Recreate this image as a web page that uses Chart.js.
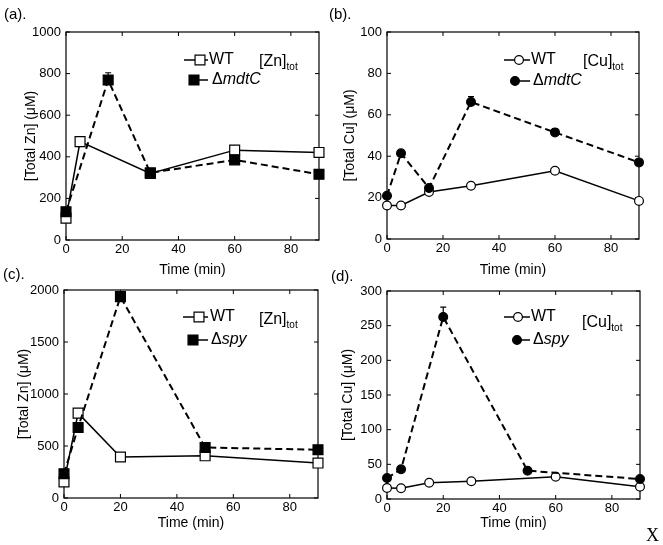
<!DOCTYPE html>
<html><head><meta charset="utf-8">
<script src="https://cdn.jsdelivr.net/npm/chart.js@4.4.0/dist/chart.umd.min.js"></script>
<style>
html,body{margin:0;padding:0;background:#fff;width:663px;height:545px;overflow:hidden;position:relative;font-family:"Liberation Sans",Arial,sans-serif;}
canvas{position:absolute;}
.lbl{position:absolute;font-size:15px;line-height:16px;color:#000;white-space:nowrap;}
</style></head><body>
<canvas id="ca" width="330" height="285" style="left:0;top:0;width:330px;height:285px"></canvas>
<canvas id="cb" width="333" height="285" style="left:330px;top:0;width:333px;height:285px"></canvas>
<canvas id="cc" width="330" height="285" style="left:0;top:260px;width:330px;height:285px"></canvas>
<canvas id="cd" width="333" height="285" style="left:330px;top:260px;width:333px;height:285px"></canvas>
<div class="lbl" style="left:4px;top:6px">(a).</div>
<div class="lbl" style="left:329px;top:6px">(b).</div>
<div class="lbl" style="left:3px;top:266px">(c).</div>
<div class="lbl" style="left:331px;top:268px">(d).</div>
<div class="lbl" style="left:646px;top:525px;font-family:'Liberation Serif','Times New Roman',serif;font-size:18px;line-height:20px">X</div>
<script>
// ---------- data ----------
const xTicks = [0, 20, 40, 60, 80];
const yTicksA = [0, 200, 400, 600, 800, 1000];
const yTicksB = [0, 20, 40, 60, 80, 100];
const yTicksC = [0, 500, 1000, 1500, 2000];
const yTicksD = [0, 50, 100, 150, 200, 250, 300];

// (a) Zn, mdtC
const timeA_WT = [0, 5, 30, 60, 90];
const znA_WT   = [105, 473, 320, 432, 421];
const timeA_KO = [0, 15, 30, 60, 90];
const znA_KO   = [136, 769, 323, 385, 316];
const errA_KO  = [null, 35, null, null, null];

// (b) Cu, mdtC
const timeB    = [0, 5, 15, 30, 60, 90];
const cuB_WT   = [16.2, 16.2, 22.7, 25.7, 33.0, 18.4];
const cuB_KO   = [20.9, 41.4, 24.6, 66.2, 51.5, 37.0];
const errB_KO  = [null, null, null, 2.6, 1.8, null];

// (c) Zn, spy
const timeC    = [0, 5, 20, 50, 90];
const znC_WT   = [154, 816, 394, 406, 336];
const znC_KO   = [233, 678, 1936, 486, 464];
const errC_KO  = [null, null, null, null, null];

// (d) Cu, spy
const timeD_WT = [0, 5, 15, 30, 60, 90];
const cuD_WT   = [15.8, 15.4, 23.5, 25.5, 32.1, 17.7];
const timeD_KO = [0, 5, 20, 50, 90];
const cuD_KO   = [30.2, 42.8, 262.6, 40.8, 28.8];
const errD_KO  = [null, null, 14, null, null];

const FAMILY = '"Liberation Sans", Arial, Helvetica, sans-serif';
Chart.defaults.font.family = FAMILY;
Chart.defaults.color = '#000';

// ---------- plugins ----------
function drawMarker(ctx, style, x, y, r, filled) {
  ctx.save();
  ctx.setLineDash([]);
  ctx.beginPath();
  if (style === 'rect') {
    const s = r * Math.SQRT1_2;
    ctx.rect(x - s, y - s, 2 * s, 2 * s);
  } else {
    ctx.arc(x, y, r, 0, Math.PI * 2);
  }
  ctx.fillStyle = filled ? '#000' : '#fff';
  ctx.fill();
  ctx.lineWidth = 1.2;
  ctx.strokeStyle = '#000';
  ctx.stroke();
  ctx.restore();
}

const framePlugin = {
  id: 'frame',
  beforeDatasetsDraw(chart) {
    const {ctx, chartArea: a, scales} = chart;
    ctx.save();
    ctx.strokeStyle = '#000';
    ctx.lineWidth = 1.2;
    ctx.setLineDash([]);
    ctx.strokeRect(a.left, a.top, a.right - a.left, a.bottom - a.top);
    const tl = 4;
    ctx.lineWidth = 1;
    ctx.beginPath();
    scales.x.ticks.forEach(t => {
      const px = scales.x.getPixelForValue(t.value);
      ctx.moveTo(px, a.bottom); ctx.lineTo(px, a.bottom - tl);
      ctx.moveTo(px, a.top); ctx.lineTo(px, a.top + tl);
    });
    scales.y.ticks.forEach(t => {
      const py = scales.y.getPixelForValue(t.value);
      ctx.moveTo(a.left, py); ctx.lineTo(a.left + tl, py);
      ctx.moveTo(a.right, py); ctx.lineTo(a.right - tl, py);
    });
    ctx.stroke();
    // error bars (drawn under the markers)
    chart.data.datasets.forEach(ds => {
      if (!ds.err) return;
      ctx.beginPath();
      ctx.lineWidth = 1.2;
      ds.data.forEach((p, i) => {
        const e = ds.err[i];
        if (e == null) return;
        const px = scales.x.getPixelForValue(p.x);
        const y0 = scales.y.getPixelForValue(p.y);
        const y1 = scales.y.getPixelForValue(p.y + e);
        ctx.moveTo(px, y0); ctx.lineTo(px, y1);
        ctx.moveTo(px - 3, y1); ctx.lineTo(px + 3, y1);
      });
      ctx.stroke();
    });
    ctx.restore();
  }
};

const legendPlugin = {
  id: 'customLegend',
  afterDraw(chart, args, opts) {
    const {ctx, chartArea: a} = chart;
    ctx.save();
    ctx.fillStyle = '#000';
    ctx.textBaseline = 'middle';
    opts.entries.forEach(e => {
      const y = a.top + e.dy;
      ctx.beginPath();
      ctx.setLineDash([]);
      ctx.lineWidth = 1.5;
      ctx.strokeStyle = '#000';
      ctx.moveTo(a.left + e.x0, y);
      ctx.lineTo(a.left + e.x1, y);
      ctx.stroke();
      drawMarker(ctx, opts.marker, a.left + e.mx, y, opts.radius, e.filled);
      let x = a.left + e.tx;
      e.parts.forEach(p => {
        ctx.font = (p.italic ? 'italic ' : '') + '16px ' + FAMILY;
        ctx.fillText(p.text, x, y);
        x += ctx.measureText(p.text).width;
      });
    });
    // metal label with subscript
    const m = opts.metal;
    ctx.font = '16px ' + FAMILY;
    ctx.fillText(m.text, a.left + m.x, a.top + m.dy);
    const w = ctx.measureText(m.text).width;
    ctx.font = '10px ' + FAMILY;
    ctx.fillText(m.sub, a.left + m.x + w, a.top + m.dy + 5);
    ctx.restore();
  }
};

// ---------- builder ----------
function makePanel(id, c) {
  const toPts = (t, v) => t.map((x, i) => ({x: x, y: v[i]}));
  new Chart(document.getElementById(id), {
    type: 'line',
    data: {
      datasets: [
        {
          label: c.koLabel,
          data: toPts(c.koT, c.koV),
          err: c.koErr,
          borderColor: '#000', borderWidth: 2, borderDash: [7, 4],
          pointStyle: c.marker, pointRadius: c.radius,
          pointBackgroundColor: '#000', pointBorderColor: '#000', pointBorderWidth: 1.2,
          fill: false, tension: 0, clip: false
        },
        {
          label: 'WT',
          data: toPts(c.wtT, c.wtV),
          borderColor: '#000', borderWidth: 1.5,
          pointStyle: c.marker, pointRadius: c.radius,
          pointBackgroundColor: '#fff', pointBorderColor: '#000', pointBorderWidth: 1.2,
          fill: false, tension: 0, clip: false
        }
      ]
    },
    options: {
      responsive: false,
      animation: false,
      events: [],
      layout: {padding: {top: c.padTop, right: c.padRight, left: 0, bottom: 0}},
      scales: {
        x: {
          type: 'linear', min: 0, max: 90,
          afterBuildTicks: s => { s.ticks = xTicks.map(v => ({value: v})); },
          ticks: {font: {size: 13}, color: '#000', padding: 2, maxRotation: 0, autoSkip: false, includeBounds: false,
                  callback: v => String(v)},
          grid: {display: false, drawTicks: false},
          border: {display: false},
          title: {display: true, text: 'Time (min)', color: '#000', font: {size: 14}, padding: {top: 0, bottom: c.xTitlePad}},
          afterFit: s => { s.height = c.xH; }
        },
        y: {
          type: 'linear', min: 0, max: c.yTicks[c.yTicks.length - 1],
          afterBuildTicks: s => { s.ticks = c.yTicks.map(v => ({value: v})); },
          ticks: {font: {size: 13}, color: '#000', padding: 5, autoSkip: false, includeBounds: false,
                  callback: v => String(v)},
          grid: {display: false, drawTicks: false},
          border: {display: false},
          title: {display: true, text: c.yTitle, color: '#000', font: {size: 14}, padding: {top: c.yTitlePad, bottom: 0}},
          afterFit: s => { s.width = c.yW; }
        }
      },
      plugins: {
        legend: {display: false},
        tooltip: {enabled: false},
        customLegend: {
          marker: c.marker, radius: c.radius,
          entries: [
            {dy: c.lg.wtY, x0: c.lg.wtX0, x1: c.lg.wtX1, mx: c.lg.wtM, tx: c.lg.wtT, filled: false, parts: [{text: 'WT'}]},
            {dy: c.lg.koY, x0: c.lg.koM, x1: c.lg.koX1, mx: c.lg.koM, tx: c.lg.koT, filled: true,
             parts: [{text: '\u0394'}, {text: c.koLabel, italic: true}]}
          ],
          metal: {text: c.metal, sub: 'tot', x: c.lg.mX, dy: c.lg.mY}
        }
      }
    },
    plugins: [framePlugin, legendPlugin]
  });
}

makePanel('ca', {
  wtT: timeA_WT, wtV: znA_WT, koT: timeA_KO, koV: znA_KO, koErr: errA_KO, koLabel: 'mdtC',
  marker: 'rect', radius: 7, yTicks: yTicksA, yTitle: '[Total Zn] (\u03BCM)', metal: '[Zn]',
  padTop: 32, padRight: 11, yW: 66, xH: 45, xTitlePad: 6, yTitlePad: 22.6,
  lg: {wtY: 28, wtX0: 118, wtX1: 142, wtM: 134, wtT: 143, koY: 48, koM: 128, koX1: 142, koT: 146, mX: 193, mY: 30}
});
makePanel('cb', {
  wtT: timeB, wtV: cuB_WT, koT: timeB, koV: cuB_KO, koErr: errB_KO, koLabel: 'mdtC',
  marker: 'circle', radius: 4.4, yTicks: yTicksB, yTitle: '[Total Cu] (\u03BCM)', metal: '[Cu]',
  padTop: 32, padRight: 24, yW: 57, xH: 46, xTitlePad: 6, yTitlePad: 11.6,
  lg: {wtY: 28, wtX0: 117, wtX1: 143, wtM: 132, wtT: 144, koY: 49, koM: 128, koX1: 143, koT: 146, mX: 196, mY: 30}
});
makePanel('cc', {
  wtT: timeC, wtV: znC_WT, koT: timeC, koV: znC_KO, koErr: errC_KO, koLabel: 'spy',
  marker: 'rect', radius: 7, yTicks: yTicksC, yTitle: '[Total Zn] (\u03BCM)', metal: '[Zn]',
  padTop: 30, padRight: 12, yW: 64, xH: 47, xTitlePad: 13.6, yTitlePad: 15.6,
  lg: {wtY: 27, wtX0: 119, wtX1: 144, wtM: 135, wtT: 146, koY: 50, koM: 129, koX1: 144, koT: 147, mX: 195, mY: 30}
});
makePanel('cd', {
  wtT: timeD_WT, wtV: cuD_WT, koT: timeD_KO, koV: cuD_KO, koErr: errD_KO, koLabel: 'spy',
  marker: 'circle', radius: 4.4, yTicks: yTicksD, yTitle: '[Total Cu] (\u03BCM)', metal: '[Cu]',
  padTop: 31, padRight: 23, yW: 57, xH: 46, xTitlePad: 13.6, yTitlePad: 9.6,
  lg: {wtY: 26, wtX0: 117, wtX1: 143, wtM: 131, wtT: 144, koY: 49, koM: 130, koX1: 143, koT: 146, mX: 195, mY: 32}
});
</script>
</body></html>
